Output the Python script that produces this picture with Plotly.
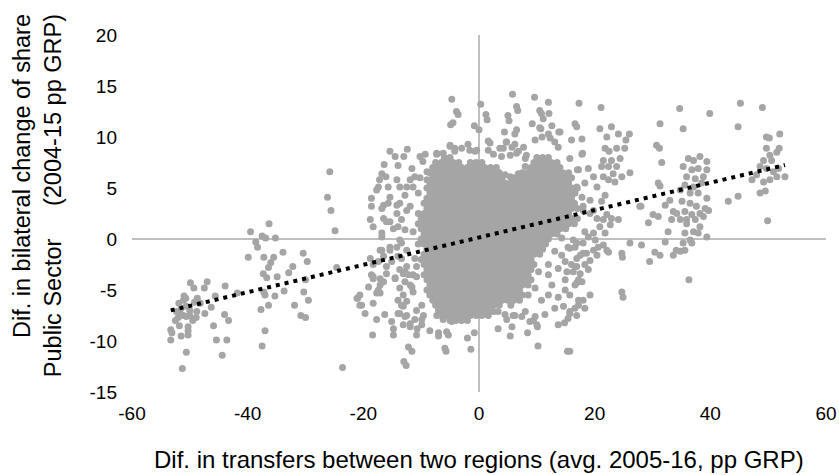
import plotly.graph_objects as go

# ---- scattered points (x, y) ----
far_left = [(-49.9,-4.3),(-49.3,-4.8),(-47.0,-4.2),(-47.5,-4.8),(-43.9,-4.6),(-51.0,-5.6),(-51.1,-6.0),(-50.7,-5.8),
            (-48.7,-5.8),(-48.2,-6.3),(-45.6,-5.6),(-46.3,-6.7),(-41.8,-5.3),(-52.3,-7.1),(-51.7,-7.3),(-51.1,-7.5),
            (-50.6,-7.6),(-50.0,-7.5),(-48.9,-7.7),(-47.4,-7.3),(-48.8,-7.1),(-52.5,-8.0),(-50.3,-8.6),(-50.3,-9.0),
            (-50.3,-9.4),(-53.3,-8.9),(-53.1,-9.2),(-53.3,-9.9),(-51.5,-9.5),(-45.9,-8.5),(-44.0,-7.4),(-43.3,-8.0),
            (-45.4,-9.9),(-43.6,-9.9),(-50.6,-11.1),(-44.4,-11.4),(-51.3,-12.7),(-51.9,-6.3),(-50.6,-6.6),
            (-51.5,-6.8),(-50.0,-7.0),(-49.5,-8.0),(-52.0,-7.7),(-49.2,-6.2),(-51.8,-8.5)]

left_mid = [(-36.3,1.5),(-39.5,0.7),(-37.5,0.3),(-36.9,0.1),(-35.2,0.1),(-38.6,-0.3),(-38.3,-0.8),(-33.9,-1.3),
            (-39.9,-1.8),(-37.2,-1.8),(-35.5,-1.8),(-36.0,-2.3),(-36.4,-2.8),(-37.3,-3.4),(-36.7,-3.8),(-34.9,-3.7),
            (-32.2,-2.7),(-32.9,-3.3),(-30.4,-1.4),(-29.7,-2.2),(-30.0,-4.0),(-33.7,-5.1),(-30.3,-5.2),(-29.5,-6.0),
            (-35.3,-5.6),(-37.0,-5.5),(-37.2,-5.2),(-31.9,-6.5),(-36.4,-6.5),(-37.7,-6.9),(-30.8,-7.5),(-30.0,-7.7),
            (-37.0,-9.0),(-37.5,-10.5),
            (-25.8,6.6),(-26.2,4.1),(-25.6,2.8),(-24.9,0.8),(-23.6,-12.6),(-24.6,-2.8),(-21.0,-5.8),(-20.6,-6.5)]

left_fringe = [(-15.4,8.6),(-14.5,8.1),(-12.4,8.8),(-13.0,8.1),(-10.2,8.1),(-9.3,8.3),(-9.7,7.6),(-7.3,8.3),
               (-16.4,7.3),(-16.8,6.4),(-17.2,5.8),(-16.1,6.1),(-14.0,7.2),(-17.4,5.1),(-17.7,4.8),(-18.6,4.0),
               (-18.6,3.2),(-16.5,3.3),(-15.7,5.1),(-14.2,5.8),(-13.7,5.1),(-15.4,4.1),(-15.7,3.5),(-11.6,6.9),
               (-11.1,6.1),(-11.9,5.8),(-12.5,5.1),(-11.4,5.1),(-9.0,6.6),(-10.2,6.0),(-9.0,5.8),(-10.5,4.5),
               (-12.8,4.3),(-11.9,3.2),(-13.7,3.5),(-14.2,2.5),(-13.4,1.9),(-16.0,1.7),(-14.0,1.2),(-12.8,0.9),
               (-11.4,0.7),(-18.8,1.9),(-18.3,1.2),(-16.5,2.0),(-15.4,1.7),(-14.8,1.0),(-12.5,2.8),(-14.2,3.3),
               (-16.8,3.0),(-16.8,0.2),(-16.8,-1.1),(-15.4,-1.1),(-14.2,-0.8),(-13.4,-0.4),(-17.1,-1.1),(-16.5,-1.7),
               (-15.4,-0.8),(-16.8,0.6),(-13.7,-0.1),(-12.5,-1.1),(-14.0,-1.7),(-18.6,-3.5),(-19.1,-4.7),(-18.3,-3.9),
               (-17.1,-3.9),(-17.4,-5.0),(-14.5,-3.8),(-13.1,-3.4),(-20.6,-5.5),(-20.3,-6.5),(-21.1,-5.8),(-17.1,-5.3),
               (-18.3,-6.3),(-19.7,-7.3),(-16.3,-7.4),(-17.7,-7.9),(-18.4,-9.4),(-15.1,-8.1),(-14.8,-8.8),(-14.8,-9.4),
               (-13.7,-4.8),(-13.1,-5.5),(-13.4,-6.5),(-14.0,-7.3),(-12.8,-7.6),(-13.1,-8.4),(-11.9,-8.6),
               (-12.2,-10.6),(-11.6,-11.0),(-13.0,-12.0),(-12.6,-12.4),(-10.8,-9.4),(-10.7,-8.8),(-9.9,-8.4),
               (-11.1,-7.9),(-8.5,-9.0),(-7.0,-9.2),(-7.0,-9.5),(-5.6,-9.1),(-5.3,-9.4),(-5.9,-10.7),(-5.7,-11.0),
               (-7.3,-7.5),(-6.2,-7.9),(-4.7,-8.1),(-9.9,-6.5),(-9.6,-7.5),(-12.5,-6.1),(-11.4,-5.2),
               (-11.9,-4.5),(-12.2,-3.5),(-11.4,-3.5),(-10.8,-2.7),(-11.1,-1.9),(-15.1,-2.2),(-16.0,-2.7),
               (-13.4,-1.9),(-12.8,-3.2),(-17.4,-2.2),(-18.8,-1.9),(-18.3,-2.5),(-17.7,-5.3),(-17.1,-4.5),(-18.3,-3.7),
               (-16.5,-4.2),(-16.0,-3.4),(-14.5,-3.9),(-13.7,-3.0),(-12.5,-2.7),(-12.8,-4.2),(-11.6,-4.7),(-10.8,-3.7),
               (-14.0,-6.0),(-13.1,-6.6),(-13.7,-7.3),(-12.5,-7.5),(-11.9,-8.3),(-10.8,-7.0),(-9.9,-7.9)]

upper_fringe = [(-4.7,13.7),(-3.9,12.5),(-3.6,12.2),(-4.9,11.2),(-4.5,11.4),(-5.0,9.2),(-4.2,8.9),(5.8,14.2),
                (9.6,13.9),(12.0,13.4),(17.3,13.3),(0.3,13.2),(6.5,13.0),(6.7,12.6),(10.5,12.6),(10.8,12.3),
                (12.1,12.3),(11.1,11.8),(1.2,12.2),(1.4,11.7),(5.0,12.1),(5.2,11.6),(9.2,11.3),(12.6,11.1),
                (10.7,10.8),(16.6,11.3),(16.9,11.0),(-0.8,11.1),(0.0,10.7),(4.4,10.5),(6.5,10.7),(6.2,10.3),
                (13.8,10.5),(12.0,10.3),(1.6,9.6),(4.7,9.5),(6.2,9.3),(6.5,8.4),(-1.9,9.3),(16.0,9.7),(17.8,9.8),
                (9.7,9.7),(10.9,10.0),(12.3,9.9),(13.1,9.5),(13.7,9.0),(15.7,7.9),(17.8,8.3),(17.2,6.8),(17.9,8.4),
                (-4.2,8.6),(-3.0,8.9),(-1.6,8.7),(-0.7,8.6),(1.6,8.7),(2.5,8.3),(3.6,8.9),(3.9,8.1),(5.4,8.2),
                (6.8,8.6),(8.0,7.9),(8.0,7.1),(6.8,6.4),(5.4,6.1),(4.5,6.3),(-7.3,8.4),(-6.2,8.4),(-5.0,9.1),
                (-0.4,8.7),(1.9,9.4),(4.2,8.9),(4.8,9.5),(5.7,9.0),(7.7,9.0),(8.2,8.2),(14.0,10.5),(10.5,10.9)]

right_mid = [(21.1,12.9),(20.9,10.8),(22.9,11.0),(22.1,10.0),(24.1,10.3),(26.0,10.3),(25.4,9.7),(21.8,8.9),
             (22.5,8.6),(23.8,8.9),(25.2,8.9),(21.5,7.7),(22.9,7.7),(24.4,7.9),(23.8,7.1),(22.4,7.1),(21.2,7.1),
             (17.0,6.8),(18.9,6.9),(23.2,6.4),(24.7,6.1),(26.1,6.5),(21.5,6.1),(22.4,5.8),(23.5,5.6),(18.3,5.5),
             (19.8,6.1),(20.4,5.1),(16.9,5.1),(16.6,4.5),(21.8,4.3),(21.2,3.7),(19.2,3.8),(17.8,4.1),(19.8,2.8),
             (18.0,3.2),(16.3,3.2),(18.0,2.8),(19.2,2.5),(20.4,2.0),(21.5,1.9),(22.1,2.4),(22.9,2.0),(20.9,1.2),
             (19.8,0.6),(18.3,0.7),(18.9,0.2),(20.1,-0.1),(20.6,-0.8),(21.5,-0.6),(22.1,-1.1),(19.8,-1.1),
             (18.6,-1.4),(17.5,-1.6),(16.6,-0.8),(16.3,-0.1),(18.0,-0.4),(19.2,-2.1),(18.3,-2.5),(18.9,-3.0),
             (16.9,-2.7),(16.3,-3.2),(20.4,-1.6),(24.1,1.9),(22.7,1.4),(21.8,0.6),(22.4,-1.3),(19.2,-5.5),
             (18.3,-6.8),(17.2,-6.5),(16.6,-6.8),(15.7,-7.3),(17.2,-6.0),(17.2,-4.0),(16.9,-4.3),(15.7,-11.0),
             (24.7,-1.4),(24.8,-1.8),(24.7,-5.2),(24.9,-5.7),(26.1,-0.4),(28.1,-0.6),(14.3,-1.6),(15.7,-0.9),
             (16.9,-1.9),(18.0,-1.4),(13.1,-1.2),(14.9,-2.2),(16.0,-2.5),(14.3,0.1),(15.4,-0.8),(16.9,-0.4),
             (10.3,-3.2),(12.0,-3.5),(13.7,-2.9),(15.2,-3.2),(16.6,-2.7),(17.5,-3.4),(14.9,-4.0),(12.0,-2.5),
             (9.7,-4.8),(12.6,-4.5),(14.9,-5.0),(16.6,-4.5),(17.8,-4.2),(13.7,-5.7),(15.7,-5.5),(10.8,-6.0),
             (12.0,-5.5),(13.1,-6.8),(14.6,-6.6),(15.7,-7.1),(16.9,-7.5),(18.0,-6.0),(13.7,-8.4),(14.8,-8.2),
             (15.4,-7.8),(1.6,-7.5),(2.5,-7.1),(4.5,-7.4),(6.2,-7.5),(8.0,-7.1),(8.8,-8.1),(9.7,-7.6),(10.0,-8.4),
             (3.3,-8.8),(5.4,-9.5),(8.4,-9.2),(10.2,-10.5),(15.3,-11.0),(-2.0,-9.7),(-1.4,-10.8),(-0.8,-9.2),
             (4.8,-7.9),(5.7,-8.6),(10.1,-8.6),(9.4,-8.0),(11.4,-7.4),(3.3,-7.1),(5.9,-7.5),(7.4,-7.6)]

right_group = [(31.3,11.3),(30.7,9.2),(31.2,8.9),(31.6,7.5),(31.0,5.5),(31.3,5.2),(27.8,3.2),(30.1,2.4),(31.0,2.2),
               (34.7,12.8),(35.3,10.8),(39.9,12.3),(36.2,7.9),(38.2,8.1),(39.4,7.6),(37.1,7.7),(35.3,7.1),(36.8,6.8),
               (37.9,6.9),(39.4,6.8),(35.9,6.1),(37.4,5.9),(38.8,6.1),(35.6,5.3),(37.1,5.1),(38.5,5.5),(34.8,4.8),
               (36.5,4.5),(37.9,4.5),(39.4,4.0),(35.1,3.7),(36.5,3.5),(37.6,3.2),(39.1,3.0),(35.6,2.7),(36.8,2.4),
               (38.2,2.5),(35.9,1.9),(33.0,3.8),(32.2,3.3),(33.6,2.7),(39.7,2.8),(38.8,2.2),(34.8,1.9),(35.9,1.5),
               (37.4,1.9),(38.2,1.2),(37.1,0.7),(37.9,0.6),(39.4,0.2),(35.6,0.6),(36.5,-0.1),(35.3,-0.4),(36.8,-0.4),
               (35.6,-1.1),(34.8,-1.2),(33.6,-1.6),(34.1,-1.1),(32.2,-0.3),(32.7,0.7),(33.3,1.9),(34.2,2.5),
               (36.3,-4.0),(29.3,1.6),(28.0,3.2),(30.4,-1.3),(31.3,-1.6),(29.5,-2.2)]

far_right = [(43.1,3.7),(44.8,4.2),(45.2,13.3),(49.0,12.9),(44.8,11.0),(49.7,10.0),(50.2,9.9),(52.0,10.3),
             (49.7,8.9),(51.9,8.9),(50.3,8.2),(51.5,8.5),(49.2,7.7),(50.6,7.7),(48.6,7.1),(49.7,6.9),(50.9,6.6),
             (51.8,6.9),(52.9,6.1),(51.5,6.1),(50.3,5.8),(49.2,5.6),(47.2,5.8),(48.0,6.3),(48.6,4.5),(49.5,4.7),
             (49.9,1.8)]

# ---- dense core of the cloud, read row by row (y, list of x) ----
core_rows = [
    (8.0, [-6, -5, 10, 11, 12]),
    (7.5, [-7.5, -6.5, -5.5, -4.5, -3.5, -1.5, -0.5, 0.5, 9.5, 10.5, 11.5, 12.5, 13.5]),
    (7.0, [-8, -7, -6, -5, -4, -3, -2, -1, 0, 1, 2, 3, 9, 10, 11, 12, 13, 14]),
    (6.5, [-8.5, -7.5, -6.5, -5.5, -4.5, -3.5, -2.5, -1.5, -0.5, 0.5, 1.5, 2.5, 3.5, 7.5, 8.5, 9.5, 10.5, 11.5, 12.5, 13.5, 14.5, 15.5]),
    (6.0, [-8, -7, -6, -5, -4, -3, -2, -1, 0, 1, 2, 3, 4, 6, 7, 8, 9, 10, 11, 12, 13, 14, 15, 16]),
    (5.5, [-8.5, -7.5, -6.5, -5.5, -4.5, -3.5, -2.5, -1.5, -0.5, 0.5, 1.5, 2.5, 3.5, 4.5, 5.5, 6.5, 7.5, 8.5, 9.5, 10.5, 11.5, 12.5, 13.5, 14.5, 15.5]),
    (5.0, [-9, -8, -7, -6, -5, -4, -3, -2, -1, 0, 1, 2, 3, 4, 5, 6, 7, 8, 9, 10, 11, 12, 13, 14, 15, 16, 17]),
    (4.5, [-8.5, -7.5, -6.5, -5.5, -4.5, -3.5, -2.5, -1.5, -0.5, 0.5, 1.5, 2.5, 3.5, 4.5, 5.5, 6.5, 7.5, 8.5, 9.5, 10.5, 11.5, 12.5, 13.5, 14.5, 15.5, 16.5]),
    (4.0, [-9, -8, -7, -6, -5, -4, -3, -2, -1, 0, 1, 2, 3, 4, 5, 6, 7, 8, 9, 10, 11, 12, 13, 14, 15, 16]),
    (3.5, [-9.5, -8.5, -7.5, -6.5, -5.5, -4.5, -3.5, -2.5, -1.5, -0.5, 0.5, 1.5, 2.5, 3.5, 4.5, 5.5, 6.5, 7.5, 8.5, 9.5, 10.5, 11.5, 12.5, 13.5, 14.5, 15.5, 16.5]),
    (3.0, [-9, -8, -7, -6, -5, -4, -3, -2, -1, 0, 1, 2, 3, 4, 5, 6, 7, 8, 9, 10, 11, 12, 13, 14, 15, 16, 17]),
    (2.5, [-10.5, -9.5, -8.5, -7.5, -6.5, -5.5, -4.5, -3.5, -2.5, -1.5, -0.5, 0.5, 1.5, 2.5, 3.5, 4.5, 5.5, 6.5, 7.5, 8.5, 9.5, 10.5, 11.5, 12.5, 13.5, 14.5, 15.5]),
    (2.0, [-10, -9, -8, -7, -6, -5, -4, -3, -2, -1, 0, 1, 2, 3, 4, 5, 6, 7, 8, 9, 10, 11, 12, 13, 14, 15, 16, 17]),
    (1.5, [-10.5, -9.5, -8.5, -7.5, -6.5, -5.5, -4.5, -3.5, -2.5, -1.5, -0.5, 0.5, 1.5, 2.5, 3.5, 4.5, 5.5, 6.5, 7.5, 8.5, 9.5, 10.5, 11.5, 12.5, 13.5, 14.5, 15.5, 16.5]),
    (1.0, [-10, -9, -8, -7, -6, -5, -4, -3, -2, -1, 0, 1, 2, 3, 4, 5, 6, 7, 8, 9, 10, 11, 12, 13, 14, 15]),
    (0.5, [-9.5, -8.5, -7.5, -6.5, -5.5, -4.5, -3.5, -2.5, -1.5, -0.5, 0.5, 1.5, 2.5, 3.5, 4.5, 5.5, 6.5, 7.5, 8.5, 9.5, 10.5, 11.5, 12.5, 13.5]),
    (0.0, [-10, -9, -8, -7, -6, -5, -4, -3, -2, -1, 0, 1, 2, 3, 4, 5, 6, 7, 8, 9, 10, 11, 12]),
    (-0.5, [-10.5, -9.5, -8.5, -7.5, -6.5, -5.5, -4.5, -3.5, -2.5, -1.5, -0.5, 0.5, 1.5, 2.5, 3.5, 4.5, 5.5, 6.5, 7.5, 8.5, 9.5, 10.5, 11.5]),
    (-1.0, [-9, -8, -7, -6, -5, -4, -3, -2, -1, 0, 1, 2, 3, 4, 5, 6, 7, 8, 9, 10, 11]),
    (-1.5, [-9.5, -8.5, -7.5, -6.5, -5.5, -4.5, -3.5, -2.5, -1.5, -0.5, 0.5, 1.5, 2.5, 3.5, 4.5, 5.5, 6.5, 7.5, 8.5, 9.5, 10.5]),
    (-2.0, [-10, -9, -8, -7, -6, -5, -4, -3, -2, -1, 0, 1, 2, 3, 4, 5, 6, 7, 8, 9]),
    (-2.5, [-9.5, -8.5, -7.5, -6.5, -5.5, -4.5, -3.5, -2.5, -1.5, -0.5, 0.5, 1.5, 2.5, 3.5, 4.5, 5.5, 6.5, 7.5, 8.5, 9.5]),
    (-3.0, [-9, -8, -7, -6, -5, -4, -3, -2, -1, 0, 1, 2, 3, 4, 5, 6, 7, 8, 9]),
    (-3.5, [-9.5, -8.5, -7.5, -6.5, -5.5, -4.5, -3.5, -2.5, -1.5, -0.5, 0.5, 1.5, 2.5, 3.5, 4.5, 5.5, 6.5, 7.5, 8.5]),
    (-4.0, [-9, -8, -7, -6, -5, -4, -3, -2, -1, 0, 1, 2, 3, 4, 5, 6, 7, 8, 9]),
    (-4.5, [-8.5, -7.5, -6.5, -5.5, -4.5, -3.5, -2.5, -1.5, -0.5, 0.5, 1.5, 2.5, 3.5, 4.5, 5.5, 6.5, 7.5, 8.5]),
    (-5.0, [-9, -8, -7, -6, -5, -4, -3, -2, -1, 0, 1, 2, 3, 4, 5, 6, 7]),
    (-5.5, [-8.5, -7.5, -6.5, -5.5, -4.5, -3.5, -2.5, -1.5, -0.5, 0.5, 1.5, 2.5, 3.5, 4.5, 5.5, 6.5, 7.5, 8.5]),
    (-6.0, [-8, -7, -6, -5, -4, -3, -2, -1, 0, 1, 2, 3, 4, 5, 6, 7]),
    (-6.5, [-7.5, -6.5, -5.5, -4.5, -3.5, -2.5, -1.5, -0.5, 0.5, 1.5, 2.5, 3.5, 5.5]),
    (-7.0, [-7, -6, -5, -4, -3, -2, -1, 0, 1, 2]),
    (-7.5, [-6.5, -5.5, -4.5, -3.5, -2.5, -1.5, -0.5, 0.5]),
    (-8.0, [-5, -4, -3, -2]),
]

# ---- linear trend line end points ----
trend_x = [-53.3, 52.9]
trend_y = [-7.0, 7.25]

x_ticks = [-60, -40, -20, 0, 20, 40, 60]
y_ticks = [-15, -10, -5, 0, 5, 10, 15, 20]

xs, ys = [], []
for grp in (far_left, left_mid, left_fringe, upper_fringe, right_mid, right_group, far_right):
    for px, py in grp:
        xs.append(px)
        ys.append(py)
for yv, xl in core_rows:
    for px in xl:
        xs.append(px)
        ys.append(yv)

FONT = "Liberation Sans, Arial, sans-serif"

fig = go.Figure()
fig.add_trace(go.Scatter(x=xs, y=ys, mode="markers",
                         marker=dict(size=7, color="#a5a5a5", line=dict(width=0)),
                         showlegend=False, hoverinfo="skip"))
fig.add_trace(go.Scatter(x=trend_x, y=trend_y, mode="lines",
                         line=dict(color="black", width=4, dash="4px,5px"),
                         showlegend=False, hoverinfo="skip"))

fig.update_layout(
    width=839, height=475,
    autosize=False,
    margin=dict(l=132, r=13, t=35, b=83, autoexpand=False),
    paper_bgcolor="white", plot_bgcolor="white",
    font=dict(family=FONT, color="black"),
    xaxis=dict(range=[-60, 60], tickvals=x_ticks, ticktext=[str(v) for v in x_ticks],
               showgrid=False, showline=False, ticks="", zeroline=True, automargin=False,
               zerolinecolor="#bfbfbf", zerolinewidth=2,
               tickfont=dict(size=19, family=FONT, color="black"), ticklabelstandoff=8),
    yaxis=dict(range=[-15, 20], tickvals=y_ticks, ticktext=[str(v) for v in y_ticks],
               showgrid=False, showline=False, ticks="", zeroline=True, automargin=False,
               zerolinecolor="#bfbfbf", zerolinewidth=2,
               tickfont=dict(size=19, family=FONT, color="black"), ticklabelstandoff=14),
    annotations=[
        dict(text="Dif. in transfers between two regions (avg. 2005-16, pp GRP)",
             xref="paper", yref="paper", x=0.5, y=-0.19, xanchor="center", yanchor="middle",
             showarrow=False, font=dict(size=24, family=FONT, color="black")),
        dict(text="Dif. in bilateral change of share<br>Public Sector\u00a0\u00a0\u00a0\u00a0\u00a0(2004-15 pp GRP)",
             xref="paper", yref="paper", x=-0.135, y=0.5495, xanchor="center", yanchor="middle",
             textangle=-90, align="right", showarrow=False,
             font=dict(size=23.5, family=FONT, color="black")),
    ],
)

fig.write_html("out.html", config={"displayModeBar": False},
               post_script="document.body.style.margin='0';document.body.style.padding='0';")
